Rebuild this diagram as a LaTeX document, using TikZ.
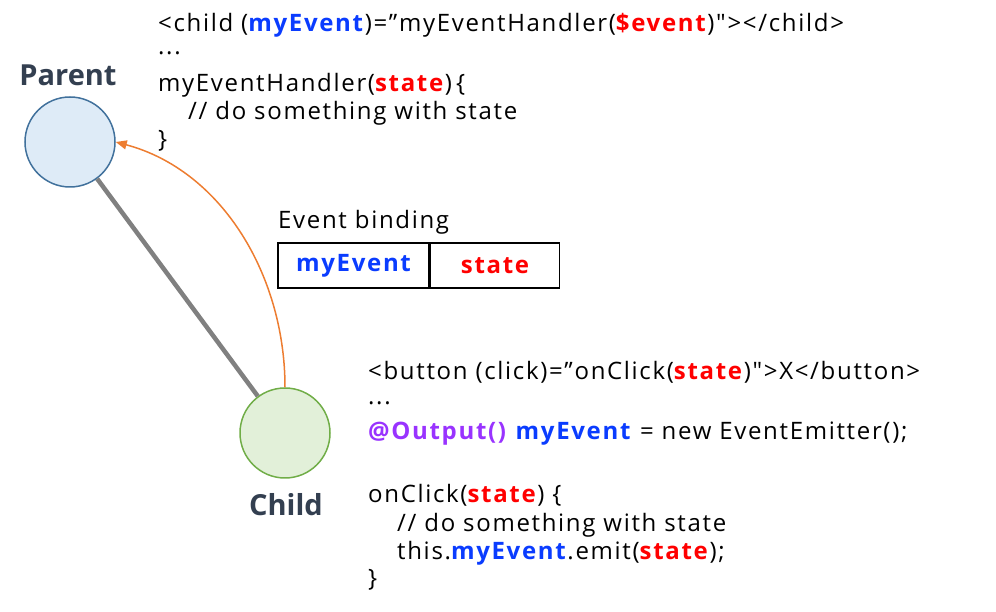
\documentclass[tikz,border=0pt]{standalone}
\usepackage{fontspec}
\setmainfont{Open Sans}[Ligatures=TeXOff]
\usetikzlibrary{arrows.meta,positioning}
\definecolor{evblue}{HTML}{0A3CFF}
\definecolor{stred}{HTML}{FF0000}
\definecolor{outpurple}{HTML}{9933FF}
\definecolor{pfill}{HTML}{DEEBF7}
\definecolor{pdraw}{HTML}{41719C}
\definecolor{cfill}{HTML}{E2F0D9}
\definecolor{cdraw}{HTML}{70AD47}
\definecolor{lblslate}{HTML}{333F50}
\definecolor{arcorange}{HTML}{ED7D31}
\newcommand{\evt}[1]{\textcolor{evblue}{\textbf{#1}}}
\newcommand{\stt}[1]{\textcolor{stred}{\textbf{#1}}}
\newcommand{\codefont}{\fontsize{24}{30}\selectfont\addfontfeatures{LetterSpace=7}}
\tikzset{
  comp/.style      = {draw, circle, minimum size=90pt, inner sep=0pt, line width=1.5pt},
  complabel/.style = {font=\fontsize{29}{34}\selectfont\bfseries, text=lblslate},
  codeline/.style  = {anchor=base west, inner sep=0pt, font=\codefont},
  cell/.style      = {draw, line width=1.5pt, minimum height=45pt, inner sep=0pt,
                      font=\codefont\bfseries},
  link/.style      = {line width=4.5pt, draw=gray},
  emit/.style      = {-{Triangle[length=11pt,width=9pt]}, line width=1.5pt, draw=arcorange},
}
\begin{document}
\begin{tikzpicture}[x=1pt,y=1pt]
\useasboundingbox (0,0) rectangle (996,612);
% components
\node[comp, fill=pfill, draw=pdraw] (parent) at (70,470) {};
\node[comp, fill=cfill, draw=cdraw] (child) at (285,179) {};
\node[complabel] (parentlbl) at (68,537) {Parent};
\node[complabel] (childlbl) at (286,107) {Child};
\draw[link] (parent) -- (child);
\draw[emit] (child.north) to[out=90,in=-15,looseness=0.95] (parent.east);
% parent template
\node[codeline] (p1) at (158,580) {<child (\evt{myEvent})=”myEventHandler(\stt{\$event})"></child>};
\node[codeline] (p2) at (158,557) {...};
\node[codeline] (p3) at (158,520) {myEventHandler(\stt{state})\,\{};
\node[codeline] (p4) at (188,492) {// do something with state};
\node[codeline] (p5) at (158,464) {\}};
% event binding
\node[codeline] (bindlbl) at (278,383) {Event binding};
\node[cell, minimum width=151pt, text=evblue] (bindev) at (353.5,346.5) {myEvent};
\node[cell, minimum width=129pt, text=stred, anchor=west] (bindst) at (bindev.east) {state};
% child component
\node[codeline] (c1) at (368,232) {<button (click)=”onClick(\stt{state})">X</button>};
\node[codeline] (c2) at (368,207) {...};
\node[codeline] (c3) at (368,172) {\textcolor{outpurple}{\textbf{@Output()}} \evt{myEvent} = new EventEmitter();};
\node[codeline] (c4) at (368,109) {onClick(\stt{state}) \{};
\node[codeline] (c5) at (397,80) {// do something with state};
\node[codeline] (c6) at (397,52) {this.\evt{myEvent}.emit(\stt{state});};
\node[codeline] (c7) at (368,25) {\}};
\end{tikzpicture}
\end{document}
